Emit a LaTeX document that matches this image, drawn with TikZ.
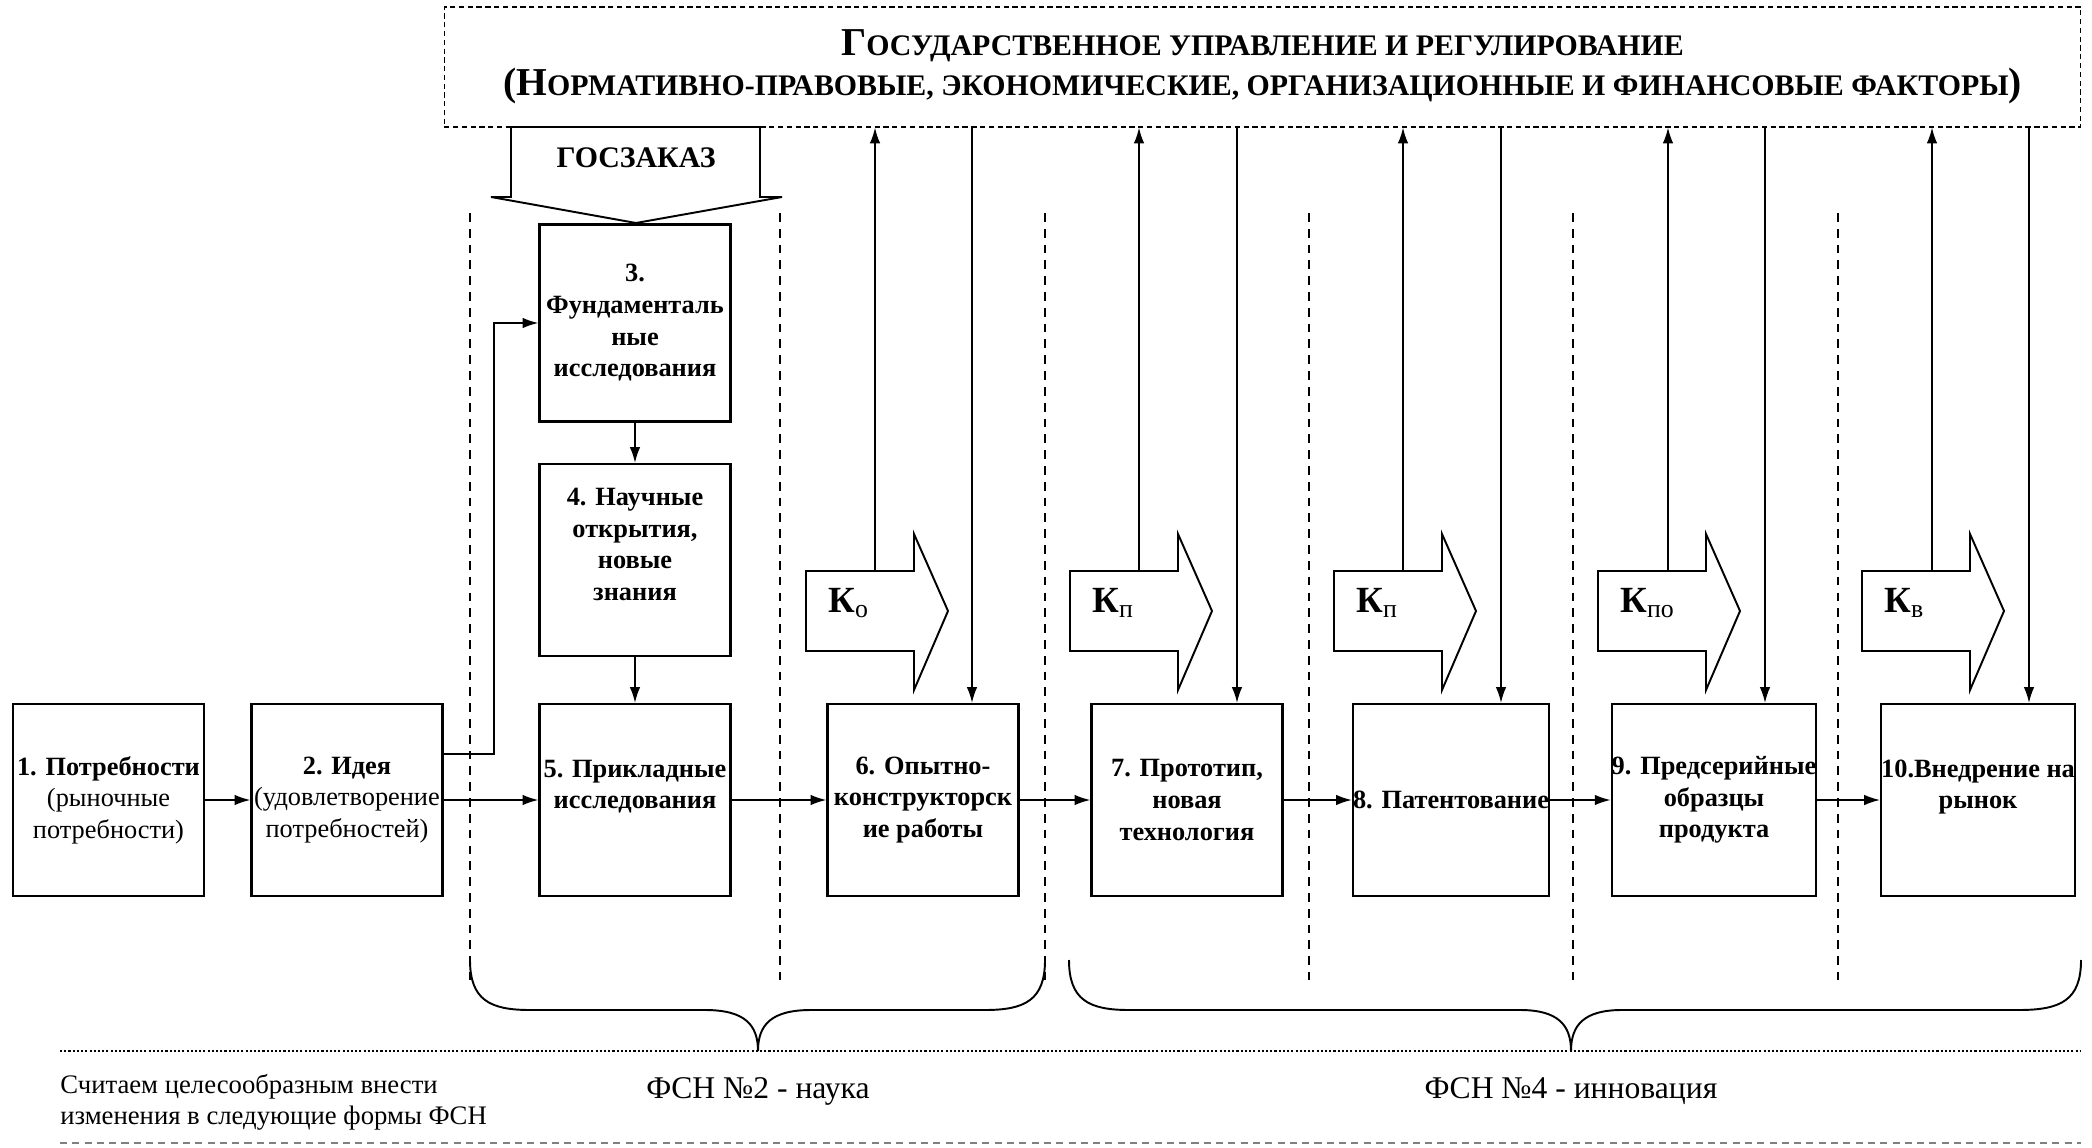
\documentclass[tikz,border=0pt]{standalone}
\usepackage{fontspec}
\setmainfont{Liberation Serif}
\usetikzlibrary{arrows.meta,calc}

\newcommand{\scfirst}[1]{{\fontsize{22.5}{22.7}\selectfont #1}}

\begin{document}
\begin{tikzpicture}[x=0.02cm,y=-0.02cm,
      >={Latex[length=9pt,width=6pt]},
      stage/.style={draw,line width=1.3pt,minimum width=3.82cm,minimum height=3.84cm,
        align=center,inner sep=0pt,font=\fontsize{15}{18}\selectfont},
      stagebf/.style={stage,font=\fontsize{15}{18}\bfseries\selectfont},
      flow/.style={->,line width=0.9pt},
      guide/.style={line width=0.6pt,dash pattern=on 5pt off 4pt},
      bigarrow/.style={draw,fill=white,line width=1.1pt,line join=miter},
      klabel/.style={anchor=west,inner sep=0pt,font=\fontsize{21}{24}\selectfont},
      brace/.style={line width=1.1pt},
      note/.style={inner sep=0pt,font=\fontsize{15.2}{17.5}\selectfont}]
      \useasboundingbox (0,0) rectangle (2092,1148);
      % state regulation on top
      \node[draw,line width=0.7pt,dash pattern=on 3pt off 2pt,minimum width=32.74cm,minimum height=2.4cm,
        align=center,font=\fontsize{17}{22.7}\bfseries\selectfont] (gov) at (1262.5,67)
        {\scfirst{Г}ОСУДАРСТВЕННОЕ УПРАВЛЕНИЕ И РЕГУЛИРОВАНИЕ\\
         \scfirst{(Н}ОРМАТИВНО-ПРАВОВЫЕ, ЭКОНОМИЧЕСКИЕ, ОРГАНИЗАЦИОННЫЕ И ФИНАНСОВЫЕ ФАКТОРЫ\scfirst{)}};
      \draw[bigarrow] (511,127) -- (511,197) -- (491,197) -- (636,223) -- (782,197) -- (760,197) -- (760,127) -- cycle;
      \node[inner sep=0pt,font=\fontsize{17}{20}\bfseries\selectfont] (gz) at (636,158) {ГОСЗАКАЗ};
      % phase borders
      \draw[guide] (470,213) -- (470,980);
      \draw[guide] (780,213) -- (780,980);
      \draw[guide] (1045,213) -- (1045,980);
      \draw[guide] (1309,213) -- (1309,980);
      \draw[guide] (1573,213) -- (1573,980);
      \draw[guide] (1838,213) -- (1838,980);
      % stages
      \node[stage] (b1) at (108.5,800) {\textbf{1. Потребности}\\(рыночные\\потребности)};
      \node[stage] (b2) at (347,800) {\textbf{2. Идея}\\(удовлетворение\\потребностей)};
      \node[stagebf,minimum height=3.94cm] (b3) at (635,323) {3.\\Фундаменталь\\ные\\исследования};
      \node[stagebf] (b4) at (635,560) {4. Научные\\открытия,\\новые\\знания\\ };
      \node[stagebf] (b5) at (635,800) {5. Прикладные\\исследования\\ };
      \node[stagebf] (b6) at (923,800) {6. Опытно-\\конструкторск\\ие работы};
      \node[stagebf] (b7) at (1187,800) {7. Прототип,\\новая\\технология};
      \node[stagebf] (b8) at (1451,800) {8. Патентование};
      \node[stagebf] (b9) at (1714,800) {9. Предсерийные\\образцы\\продукта};
      \node[stagebf] (b10) at (1978,800) {10.Внедрение на\\рынок\\ };
      \draw[flow] (b1) -- (b2);
      \draw[flow] (b2) -- (b5);
      \draw[flow] (b5) -- (b6);
      \draw[flow] (b6) -- (b7);
      \draw[flow] (b7) -- (b8);
      \draw[flow] (b8) -- (b9);
      \draw[flow] (b9) -- (b10);
      \draw[flow] (b3) -- (b4);
      \draw[flow] (b4) -- (b5);
      \draw[flow] (b2.east) ++(0,-46) -- (494,754) |- (b3.west);
      % coefficients
      \draw[bigarrow] (806,571) -- (914,571) -- (914,534) -- (948,611) -- (914,690) -- (914,651) -- (806,651) -- cycle;
      \draw[bigarrow] (1070,571) -- (1178,571) -- (1178,534) -- (1212,611) -- (1178,690) -- (1178,651) -- (1070,651) -- cycle;
      \draw[bigarrow] (1334,571) -- (1442,571) -- (1442,534) -- (1476,611) -- (1442,690) -- (1442,651) -- (1334,651) -- cycle;
      \draw[bigarrow] (1598,571) -- (1706,571) -- (1706,534) -- (1740,611) -- (1706,690) -- (1706,651) -- (1598,651) -- cycle;
      \draw[bigarrow] (1862,571) -- (1970,571) -- (1970,534) -- (2004,611) -- (1970,690) -- (1970,651) -- (1862,651) -- cycle;
      \node[klabel] (ko) at (828,603) {\textbf{К}\textsubscript{о}};
      \node[klabel] (kp) at (1092,603) {\textbf{К}\textsubscript{п}};
      \node[klabel] (kpp) at (1356,603) {\textbf{К}\textsubscript{п}};
      \node[klabel] (kpo) at (1620,603) {\textbf{К}\textsubscript{по}};
      \node[klabel] (kv) at (1884,603) {\textbf{К}\textsubscript{в}};
      \coordinate (u1) at (875,571);
      \coordinate (u2) at (1139,571);
      \coordinate (u3) at (1403,571);
      \coordinate (u4) at (1668,571);
      \coordinate (u5) at (1932,571);
      \draw[flow] (u1) -- (u1 |- gov.south);
      \draw[flow] (u2) -- (u2 |- gov.south);
      \draw[flow] (u3) -- (u3 |- gov.south);
      \draw[flow] (u4) -- (u4 |- gov.south);
      \draw[flow] (u5) -- (u5 |- gov.south);
      \coordinate (d1) at (972,127);
      \coordinate (d2) at (1237,127);
      \coordinate (d3) at (1501,127);
      \coordinate (d4) at (1765,127);
      \coordinate (d5) at (2029,127);
      \draw[flow] (d1) -- (d1 |- b6.north);
      \draw[flow] (d2) -- (d2 |- b7.north);
      \draw[flow] (d3) -- (d3 |- b8.north);
      \draw[flow] (d4) -- (d4 |- b9.north);
      \draw[flow] (d5) -- (d5 |- b10.north);
      % braces and forms
      \draw[brace] (470,960) .. controls (470,1000) and (490,1010) .. (530,1010) -- (705,1010)
        .. controls (745,1010) and (758,1025) .. (758,1051)
        .. controls (758,1025) and (771,1010) .. (811,1010) -- (985,1010)
        .. controls (1025,1010) and (1045,1000) .. (1045,960);
      \draw[brace] (1069,960) .. controls (1069,1000) and (1089,1010) .. (1129,1010) -- (1520,1010)
        .. controls (1558,1010) and (1571,1025) .. (1571,1051)
        .. controls (1571,1025) and (1584,1010) .. (1622,1010) -- (2019,1010)
        .. controls (2061,1010) and (2081,1000) .. (2081,960);
      \draw[line width=1.3pt,dash pattern=on 1.2pt off 1.2pt] (60,1051) -- (2081,1051);
      \draw[gray,line width=0.6pt,dash pattern=on 4pt off 3pt] (60,1143) -- (2081,1143);
      \node[note,anchor=west,align=left] (hint) at (60,1102) {Считаем целесообразным внести\\изменения в следующие формы ФСН};
      \node[note,font=\fontsize{18}{20}\selectfont] (fsn2) at (758,1091) {ФСН №2 - наука};
      \node[note,font=\fontsize{18}{20}\selectfont] (fsn4) at (1571,1091) {ФСН №4 - инновация};
    \end{tikzpicture}
\end{document}
